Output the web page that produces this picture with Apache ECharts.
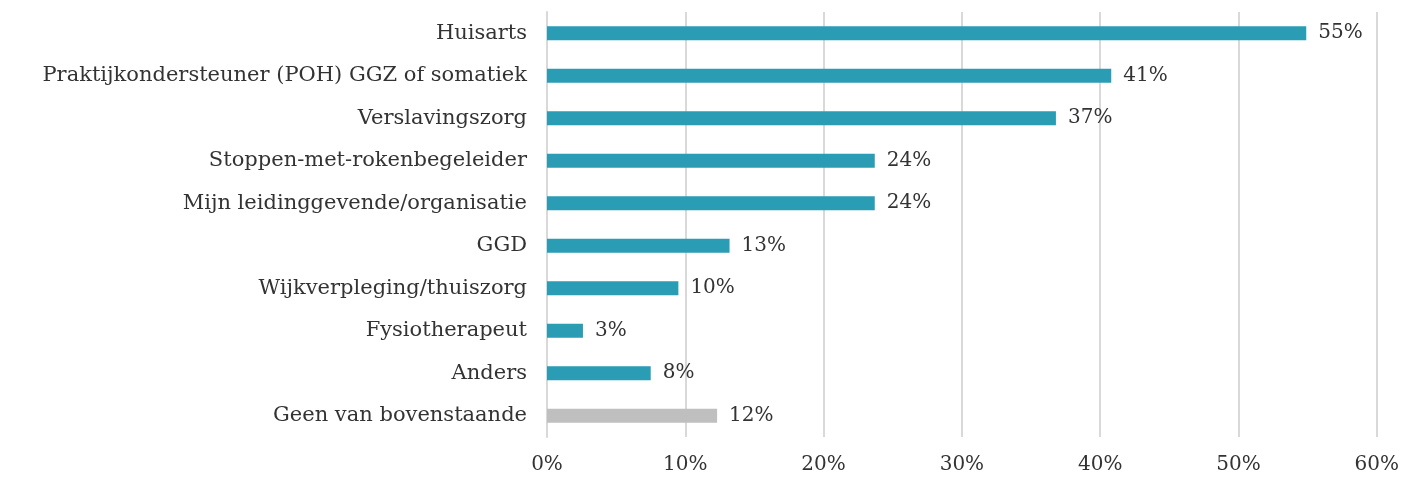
<!DOCTYPE html>
<html>
<head>
<meta charset="utf-8">
<script src="https://cdn.jsdelivr.net/npm/echarts@6/dist/echarts.min.js"></script>
<style>
body{ margin:0; background:#fff; }
#chart{ width:1402px; height:477px; }
</style>
</head>
<body>
<div id="chart"></div>
<script>
// categories top to bottom
var categories = ['Huisarts', 'Praktijkondersteuner (POH) GGZ of somatiek', 'Verslavingszorg',
  'Stoppen-met-rokenbegeleider', 'Mijn leidinggevende/organisatie', 'GGD',
  'Wijkverpleging/thuiszorg', 'Fysiotherapeut', 'Anders', 'Geen van bovenstaande'];
var values = [54.9, 40.8, 36.8, 23.7, 23.7, 13.2, 9.5, 2.6, 7.5, 12.3];
var xTicks = [0, 10, 20, 30, 40, 50, 60];

var font = 'DejaVu Serif';
var chart = echarts.init(document.getElementById('chart'));
chart.setOption({
  animation: false,
  grid: { left: 547, right: 25, top: 12, bottom: 40 },
  xAxis: {
    type: 'value', min: xTicks[0], max: xTicks[xTicks.length - 1], interval: 10,
    axisLine: { show: false }, axisTick: { show: false },
    axisLabel: { formatter: '{value}%', color: '#333', fontFamily: font, fontSize: 20, margin: 18 },
    splitLine: { lineStyle: { color: '#d9d9d9', width: 2 } }
  },
  yAxis: {
    type: 'category', inverse: true, data: categories,
    axisLine: { lineStyle: { color: '#d9d9d9', width: 2 } }, axisTick: { show: false },
    axisLabel: { color: '#333', fontFamily: font, fontSize: 21, margin: 20 }
  },
  series: [{
    type: 'bar', barWidth: 14,
    data: values.map(function (v, i) {
      return { value: v, itemStyle: { color: i === values.length - 1 ? '#bfbfbf' : '#2a9db5' } };
    }),
    label: {
      show: true, position: 'right', distance: 12, color: '#333', fontFamily: font, fontSize: 20,
      formatter: function (p) { return Math.round(p.value) + '%'; }
    }
  }]
});
</script>
</body>
</html>
